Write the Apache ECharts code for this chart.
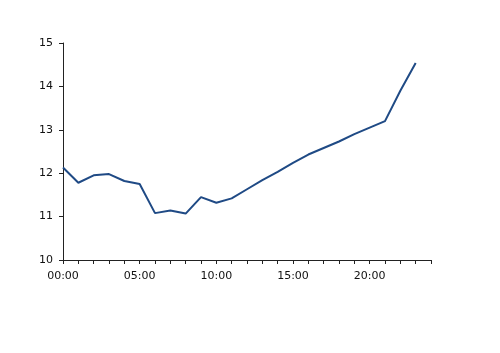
<!DOCTYPE html>
<html>
<head>
<meta charset="utf-8">
<script src="https://cdn.jsdelivr.net/npm/echarts@6/dist/echarts.min.js"></script>
<style>html,body{margin:0;padding:0;background:#fff}#c{width:500px;height:353px}</style>
</head>
<body>
<div id="c"></div>
<script>
const hours = [0,1,2,3,4,5,6,7,8,9,10,11,12,13,14,15,16,17,18,19,20,21,22,23];
const values = [12.13,11.78,11.95,11.98,11.82,11.75,11.08,11.14,11.07,11.45,11.32,11.42,11.63,11.84,12.03,12.24,12.43,12.58,12.73,12.90,13.05,13.20,13.90,14.54];
const yTicks = [10,11,12,13,14,15];
const xLabelHours = [0,5,10,15,20];

const chart = echarts.init(document.getElementById('c'));
const axisColor = '#222';
chart.setOption({
  animation: false,
  grid: {left: 63, right: 69, top: 43, bottom: 93},
  xAxis: {
    type: 'value', min: 0, max: 24, interval: 1,
    splitLine: {show: false},
    axisLine: {lineStyle: {color: axisColor, width: 1}},
    axisTick: {length: 4, lineStyle: {color: axisColor}},
    axisLabel: {
      margin: 11, color: '#111', fontFamily: 'DejaVu Sans', fontSize: 11,
      formatter: v => xLabelHours.includes(v) ? String(v).padStart(2,'0') + ':00' : ''
    }
  },
  yAxis: {
    type: 'value', min: yTicks[0], max: yTicks[yTicks.length-1], interval: 1,
    splitLine: {show: false},
    axisLine: {show: true, lineStyle: {color: axisColor, width: 1}},
    axisTick: {show: true, length: 4, lineStyle: {color: axisColor}},
    axisLabel: {margin: 10, color: '#111', fontFamily: 'DejaVu Sans', fontSize: 11}
  },
  series: [{
    type: 'line',
    data: hours.map((h,i) => [h, values[i]]),
    symbol: 'none',
    lineStyle: {color: '#1f4a85', width: 2}
  }]
});
</script>
</body>
</html>
